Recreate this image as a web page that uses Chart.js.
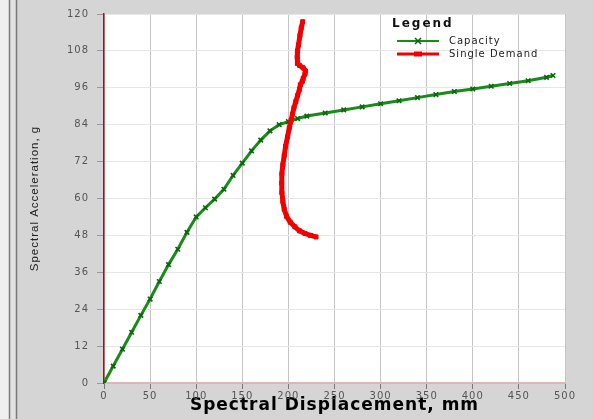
<!DOCTYPE html>
<html>
<head>
<meta charset="utf-8">
<script src="https://cdn.jsdelivr.net/npm/chart.js@4.4.1/dist/chart.umd.min.js"></script>
<style>
html,body{margin:0;padding:0;background:#d5d5d5;}
canvas{display:block;}
</style>
</head>
<body>
<canvas id="c" width="593" height="419"></canvas>
<script>
// ---- data ----
const capX = [0,10,20,30,40,50,60,70,80,90,100,110,120,130,140,150,160,170,180,190,200,210,220,240,260,280,300,320,340,360,380,400,420,440,460,480,487];
const capY = [0,5.5,11,16.5,22,27.3,33,38.5,43.5,49,54,57,59.8,63,67.5,71.5,75.5,79,82,84,85,86,86.8,87.8,88.8,89.8,90.8,91.8,92.8,93.8,94.8,95.6,96.5,97.4,98.3,99.4,100];
const demX = [230,224,218,212,207,202,198,195.5,194,193,192.7,193,194,195.5,197,199,201,203,204.5,206,208,210,212,213,215,216,218,218.5,216,212,210,209.5,210,211,212.5,214,215.5];
const demY = [47.5,48,48.6,49.5,50.8,52.3,54.2,56.5,59,62,65,68,71,74,77,80,83,85.5,87.5,89.5,91.5,93.5,95.5,97,98,99,100.5,101.5,102.5,103.3,104,106,108,110,113,115.5,117.5];
const xTicks = [0,50,100,150,200,250,300,350,400,450,500];
const yTicks = [0,12,24,36,48,60,72,84,96,108,120];
const seriesNames = ['Capacity','Single Demand'];
const legendTitle = 'Legend';
const xTitle = 'Spectral Displacement, mm';
const yTitle = 'Spectral Acceleration, g';

const capColor = '#1a8a1a', capPoint = '#0b650b';
const demColor = '#f00000';

const bgPlugin = {
  id: 'bg',
  beforeDraw(chart) {
    const {ctx, chartArea: a} = chart;
    ctx.save();
    ctx.fillStyle = '#d5d5d5';
    ctx.fillRect(0, 0, chart.width, chart.height);
    ctx.fillStyle = '#f0f0f0';
    ctx.fillRect(0, 0, 9, chart.height);
    ctx.fillStyle = '#e2e2e2';
    ctx.fillRect(9, 0, 7, chart.height);
    ctx.strokeStyle = '#7a7a7a';
    ctx.lineWidth = 1.5;
    ctx.beginPath(); ctx.moveTo(9.5, 0); ctx.lineTo(9.5, chart.height); ctx.stroke();
    ctx.beginPath(); ctx.moveTo(16.5, 0); ctx.lineTo(16.5, chart.height); ctx.stroke();
    ctx.fillStyle = '#ffffff';
    ctx.fillRect(a.left, a.top, a.right - a.left, a.bottom - a.top);
    ctx.restore();
    ctx.letterSpacing = '1px';
  },
  afterDraw(chart) {
    const ctx = chart.ctx;
    const a = chart.chartArea;
    ctx.save();
    ctx.letterSpacing = '2px';
    ctx.fillStyle = '#111';
    ctx.font = 'bold 12px "DejaVu Sans"';
    ctx.textBaseline = 'middle';
    ctx.textAlign = 'left';
    const lx = a.right - 173, ly = a.top + 10;
    ctx.fillText(legendTitle, lx, ly);
    ctx.letterSpacing = '1px';
    ctx.font = '10px "DejaVu Sans"';
    const rows = [
      {name: seriesNames[0], color: capColor, pc: capPoint, style: 'crossRot', y: ly + 17},
      {name: seriesNames[1], color: demColor, pc: demColor, style: 'rect', y: ly + 30}
    ];
    rows.forEach(r => {
      ctx.strokeStyle = r.color;
      ctx.lineWidth = r.style === 'rect' ? 3 : 2;
      ctx.beginPath(); ctx.moveTo(lx + 5, r.y); ctx.lineTo(lx + 47, r.y); ctx.stroke();
      ctx.strokeStyle = r.pc; ctx.fillStyle = r.pc;
      ctx.lineWidth = 1.5;
      if (r.style === 'crossRot') {
        ctx.beginPath(); ctx.moveTo(lx+23, r.y-3); ctx.lineTo(lx+29, r.y+3); ctx.moveTo(lx+29, r.y-3); ctx.lineTo(lx+23, r.y+3); ctx.stroke();
      } else {
        ctx.fillRect(lx+22, r.y-2.5, 8, 5);
      }
      ctx.fillStyle = '#222';
      ctx.fillText(r.name, lx + 57, r.y);
    });
    ctx.restore();
    ctx.letterSpacing = '0px';
  }
};

const capData = capX.map((x, i) => ({x, y: capY[i]}));
const demData = demX.map((x, i) => ({x, y: demY[i]}));

new Chart(document.getElementById('c'), {
  type: 'scatter',
  data: {
    datasets: [
      {
        label: seriesNames[0], data: capData, showLine: true, order: 1,
        borderColor: capColor, borderWidth: 3,
        pointStyle: 'crossRot', pointRadius: 3.2, pointBorderWidth: 1.6,
        pointBorderColor: capPoint, pointBackgroundColor: capPoint
      },
      {
        label: seriesNames[1], data: demData, showLine: true, order: 0,
        borderColor: demColor, borderWidth: 5,
        pointStyle: 'rect', pointRadius: 2.8, pointBorderWidth: 1,
        pointBorderColor: demColor, pointBackgroundColor: demColor
      }
    ]
  },
  options: {
    responsive: false,
    animation: false,
    devicePixelRatio: 1,
    layout: {padding: {left: 0, right: 28, top: 12, bottom: 0}},
    plugins: {legend: {display: false}, tooltip: {enabled: false}},
    scales: {
      x: {
        type: 'linear', min: 0, max: 500,
        afterBuildTicks: s => { s.ticks = xTicks.map(v => ({value: v})); },
        afterFit: s => { s.height = 36; },
        grid: {color: '#c4c4c4', lineWidth: 1, tickLength: 6, tickColor: '#777'},
        border: {color: '#e0b4b4', width: 2},
        ticks: {color: '#555', padding: 1, font: {family: 'DejaVu Sans', size: 10}, maxRotation: 0, autoSkip: false},
        title: {display: true, text: xTitle, color: '#000', font: {family: 'DejaVu Sans', size: 17, weight: 'bold'}, padding: {top: 0, bottom: 3}}
      },
      y: {
        type: 'linear', min: 0, max: 120,
        afterBuildTicks: s => { s.ticks = yTicks.map(v => ({value: v})); },
        afterFit: s => { s.width = 104; },
        grid: {color: '#e6e6e6', lineWidth: 1, tickLength: 7, tickColor: '#999'},
        border: {color: '#cc0000', width: 1.5},
        ticks: {color: '#555', padding: 8, font: {family: 'DejaVu Sans', size: 10}, autoSkip: false},
        title: {display: true, text: yTitle, color: '#222', font: {family: 'Liberation Sans', size: 11.5}, padding: {top: 28, bottom: 0}}
      }
    }
  },
  plugins: [bgPlugin]
});
</script>
</body>
</html>
